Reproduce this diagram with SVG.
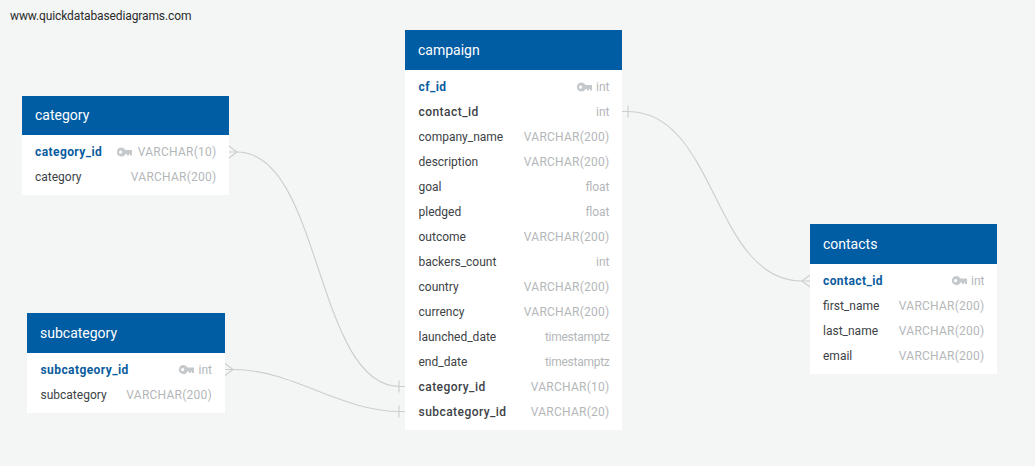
<svg xmlns="http://www.w3.org/2000/svg" width="1035" height="466" viewBox="0 0 1035 466">
<style>
text{font-family:Roboto,"Liberation Sans",sans-serif;font-size:12px}
.h{fill:#fff;font-size:14px}
.hd{fill:#005ca3}
.b{fill:#fff}
.n{fill:#3d4246}
.f{fill:#3d4246;font-weight:500;letter-spacing:.45px}
.p{fill:#0a5ca0;font-weight:700;letter-spacing:.42px}
.t{fill:#b4b7ba;text-anchor:end}
.v{letter-spacing:.25px}
.ts{letter-spacing:-.27px}
.c{fill:none;stroke:#cbcecc;stroke-width:1.1}
</style>
<defs>
<g id="key" fill="#c6c9cc"><path fill-rule="evenodd" d="M4.500 -4.500a4.500 4.500 0 1 0 4 6.400H10V3.500H12V1.900H13V3.500H15V-1.900H8.500A4.500 4.500 0 0 0 4.500 -4.500ZM3.600 -1.500a1.600 1.600 0 1 1 0 3.200a1.600 1.600 0 0 1 0-3.200Z"/></g>
</defs>
<rect width="1035" height="466" fill="#f4f6f6"/>
<text x="10" y="20" fill="#2b2b2b" letter-spacing="-.11">www.quickdatabasediagrams.com</text>
<g id="connectors">
<path class="c" d="M229 152H237C322 152 315 386.500 400 386.500H405"/>
<path class="c" d="M229 146L237 152L229 158M399 380.500V392.500"/>
<path class="c" d="M225 369.500H233C293 369.500 340 411.500 400 411.500H405"/>
<path class="c" d="M225 363.500L233 369.500L225 375.500M399 405.500V417.500"/>
<path class="c" d="M622 111.500H628C717 111.500 713 281 802 281H810"/>
<path class="c" d="M628 105.500V117.500M810 275L802 281L810 287"/>
</g>
<g id="campaign">
<rect class="b" x="405" y="70" width="217" height="360"/>
<rect class="hd" x="405" y="30" width="217" height="40"/>
<text class="h" x="418" y="55">campaign</text>
<text class="p" x="418.500" y="91">cf_id</text><use href="#key" x="577" y="87"/><text class="t" x="609.500" y="91">int</text>
<text class="f" x="418.500" y="116">contact_id</text><text class="t" x="609.500" y="116">int</text>
<text class="n" x="418.500" y="141">company_name</text><text class="t v" x="609.500" y="141">VARCHAR(200)</text>
<text class="n" x="418.500" y="166">description</text><text class="t v" x="609.500" y="166">VARCHAR(200)</text>
<text class="n" x="418.500" y="191">goal</text><text class="t" x="609.500" y="191">float</text>
<text class="n" x="418.500" y="216">pledged</text><text class="t" x="609.500" y="216">float</text>
<text class="n" x="418.500" y="241">outcome</text><text class="t v" x="609.500" y="241">VARCHAR(200)</text>
<text class="n" x="418.500" y="266">backers_count</text><text class="t" x="609.500" y="266">int</text>
<text class="n" x="418.500" y="291">country</text><text class="t v" x="609.500" y="291">VARCHAR(200)</text>
<text class="n" x="418.500" y="316">currency</text><text class="t v" x="609.500" y="316">VARCHAR(200)</text>
<text class="n" x="418.500" y="341">launched_date</text><text class="t ts" x="609.500" y="341">timestamptz</text>
<text class="n" x="418.500" y="366">end_date</text><text class="t ts" x="609.500" y="366">timestamptz</text>
<text class="f" x="418.500" y="391">category_id</text><text class="t v" x="609.500" y="391">VARCHAR(10)</text>
<text class="f" x="418.500" y="416">subcategory_id</text><text class="t v" x="609.500" y="416">VARCHAR(20)</text>
</g>
<g id="category">
<rect class="b" x="22" y="135" width="207" height="60"/>
<rect class="hd" x="22" y="96" width="207" height="39"/>
<text class="h" x="35" y="120">category</text>
<text class="p" x="35" y="156">category_id</text><use href="#key" x="117" y="152"/><text class="t v" x="216.500" y="156">VARCHAR(10)</text>
<text class="n" x="35" y="181">category</text><text class="t v" x="216.500" y="181">VARCHAR(200)</text>
</g>
<g id="subcategory">
<rect class="b" x="27" y="353" width="198" height="60"/>
<rect class="hd" x="27" y="313" width="198" height="40"/>
<text class="h" x="40" y="338">subcategory</text>
<text class="p" x="40.500" y="374">subcatgeory_id</text><use href="#key" x="179" y="369.500"/><text class="t" x="212" y="374">int</text>
<text class="n" x="40.500" y="399">subcategory</text><text class="t v" x="212" y="399">VARCHAR(200)</text>
</g>
<g id="contacts">
<rect class="b" x="810" y="264" width="187" height="110"/>
<rect class="hd" x="810" y="224" width="187" height="40"/>
<text class="h" x="823" y="249">contacts</text>
<text class="p" x="823" y="285">contact_id</text><use href="#key" x="952" y="280.500"/><text class="t" x="984.500" y="285">int</text>
<text class="n" x="823" y="310">first_name</text><text class="t v" x="984.500" y="310">VARCHAR(200)</text>
<text class="n" x="823" y="335">last_name</text><text class="t v" x="984.500" y="335">VARCHAR(200)</text>
<text class="n" x="823" y="360">email</text><text class="t v" x="984.500" y="360">VARCHAR(200)</text>
</g>
</svg>
